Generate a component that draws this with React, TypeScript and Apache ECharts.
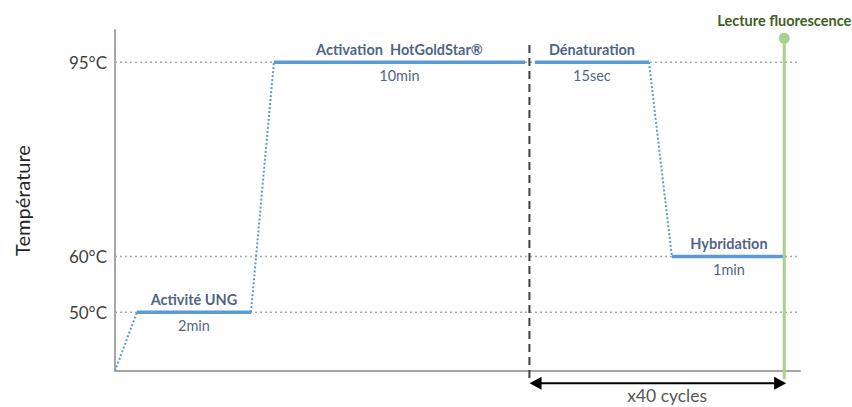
import React, { useEffect, useRef } from "react";
import * as echarts from "echarts";

// Phases of the PCR programme (schematic time axis, 0..100)
const phaseNames = ["Activité UNG", "Activation  HotGoldStar®", "Dénaturation", "Hybridation"];
const phaseDurations = ["2min", "10min", "15sec", "1min"];
const phaseTemps = [50, 95, 95, 60];
const phaseStarts = [3.2, 23.2, 61.3, 81.3];
const phaseEnds = [19.85, 59.85, 77.95, 97.95];
const startTime = 0;
const startTemp = 39.4;

// Axis
const tempTicks = [50, 60, 95];
const timeMin = 0;
const timeMax = 100;
const tempMin = 39.4;
const tempMax = 100.8;

// Cycle annotation
const cycleStart = 60.5;
const cycleTop = 98.1;
const cycleBottom = 37.8;
const arrowStart = 61.4;
const arrowEnd = 97.1;
const arrowTemp = 37.2;
const cycleLabelTime = 80.6;
const cycleLabelTemp = 35.0;
const cycleCount = 40;

// Fluorescence reading
const readTime = 97.7;
const readTop = 99.3;
const readBottom = 37.9;

const BLUE = "#5b9bd5";
const NAVY = "#203864";
const GRID_GRAY = "#a6a6a6";

export default function App() {
  const ref = useRef<HTMLDivElement>(null);

  useEffect(() => {
    if (!ref.current) return;
    const chart = echarts.init(ref.current, undefined, { renderer: "svg" });

    const gridSeries = tempTicks.map((t) => ({
      type: "line",
      data: [
        [timeMin, t],
        [timeMax, t],
      ],
      symbol: "none",
      silent: true,
      z: 1,
      lineStyle: { color: GRID_GRAY, width: 1.5, type: [2, 3] },
    }));

    const rampSeries: any[] = [];
    let prevTime = startTime;
    let prevTemp = startTemp;
    phaseTemps.forEach((t, i) => {
      if (t !== prevTemp) {
        rampSeries.push({
          type: "line",
          data: [
            [prevTime, prevTemp],
            [phaseStarts[i], t],
          ],
          symbol: "none",
          silent: true,
          z: 2,
          lineStyle: { color: BLUE, width: 2, type: [2, 2] },
        });
      }
      prevTime = phaseEnds[i];
      prevTemp = t;
    });

    const plateauSeries = phaseTemps.map((t, i) => ({
      type: "line",
      data: [
        [phaseStarts[i], t],
        [phaseEnds[i], t],
      ],
      symbol: "none",
      silent: true,
      z: 3,
      lineStyle: { color: BLUE, width: 3.5, cap: "butt" },
    }));

    const labelSeries = {
      type: "scatter",
      clip: false,
      symbolSize: 1,
      itemStyle: { color: "transparent" },
      silent: true,
      z: 10,
      data: phaseTemps
        .map((t, i) => ({
          value: [(phaseStarts[i] + phaseEnds[i]) / 2, t],
          label: {
            show: true,
            position: "inside",
            formatter: `{n|${phaseNames[i]}}\n{d|${phaseDurations[i]}}`,
            rich: {
              n: { fontSize: 14.5, fontWeight: "bold", color: NAVY, lineHeight: 26, fontFamily: "Lato" },
              d: { fontSize: 14.5, color: NAVY, lineHeight: 26, fontFamily: "Lato" },
            },
          },
        }))
        .concat([
          {
            value: [cycleLabelTime, cycleLabelTemp],
            label: {
              show: true,
              position: "inside",
              formatter: `x${cycleCount} cycles`,
              fontSize: 17.5,
              lineHeight: 18,
              color: "#262626",
              fontFamily: "Lato",
            } as any,
          },
        ]),
    };

    const dividerSeries = {
      type: "line",
      clip: false,
      symbol: "none",
      silent: true,
      z: 4,
      data: [
        [cycleStart, cycleTop],
        [cycleStart, cycleBottom],
      ],
      lineStyle: { color: "#404040", width: 2, type: [8, 5] },
    };

    const arrowSeries = {
      type: "line",
      clip: false,
      silent: true,
      z: 5,
      data: [
        { value: [arrowStart, arrowTemp], symbol: "triangle", symbolSize: [13, 12], symbolRotate: 90 },
        { value: [arrowEnd, arrowTemp], symbol: "triangle", symbolSize: [13, 12], symbolRotate: -90 },
      ],
      itemStyle: { color: "#000000" },
      lineStyle: { color: "#000000", width: 2 },
    };

    const readSeries = {
      type: "line",
      clip: false,
      silent: true,
      z: 6,
      data: [
        {
          value: [readTime, readTop],
          symbol: "circle",
          symbolSize: 11,
          label: {
            show: true,
            position: "top",
            distance: 5,
            formatter: "Lecture fluorescence",
            fontSize: 14.5,
            fontWeight: "bold",
            color: "#3f5f23",
            fontFamily: "Lato",
          },
        },
        { value: [readTime, readBottom], symbol: "none" },
      ],
      itemStyle: { color: "#a9d18e" },
      lineStyle: { color: "#a9d18e", width: 3 },
    };

    chart.setOption({
      animation: false,
      textStyle: { fontFamily: "Lato" },
      grid: { left: 115, right: 52, top: 30, bottom: 36, containLabel: false },
      xAxis: {
        type: "value",
        min: timeMin,
        max: timeMax,
        axisLine: { show: true, lineStyle: { color: GRID_GRAY, width: 2 } },
        axisTick: { show: false },
        axisLabel: { show: false },
        splitLine: { show: false },
      },
      yAxis: {
        type: "value",
        min: tempMin,
        max: tempMax,
        name: "Température",
        nameLocation: "middle",
        nameGap: 83,
        nameTextStyle: { fontSize: 20, color: "#262626", fontFamily: "Lato" },
        axisLine: { show: true, lineStyle: { color: GRID_GRAY, width: 2 } },
        axisTick: { show: false },
        axisLabel: {
          customValues: tempTicks,
          formatter: (v: number) => `${v}°C`,
          color: "#404040",
          fontSize: 17,
          margin: 8,
          fontFamily: "Lato",
        },
        splitLine: { show: false },
      },
      series: [...gridSeries, ...rampSeries, ...plateauSeries, dividerSeries, arrowSeries, readSeries, labelSeries],
    });

    return () => chart.dispose();
  }, []);

  return (
    <div
      ref={ref}
      style={{ position: "fixed", left: 0, top: 0, width: 852, height: 407, background: "#ffffff" }}
    />
  );
}
